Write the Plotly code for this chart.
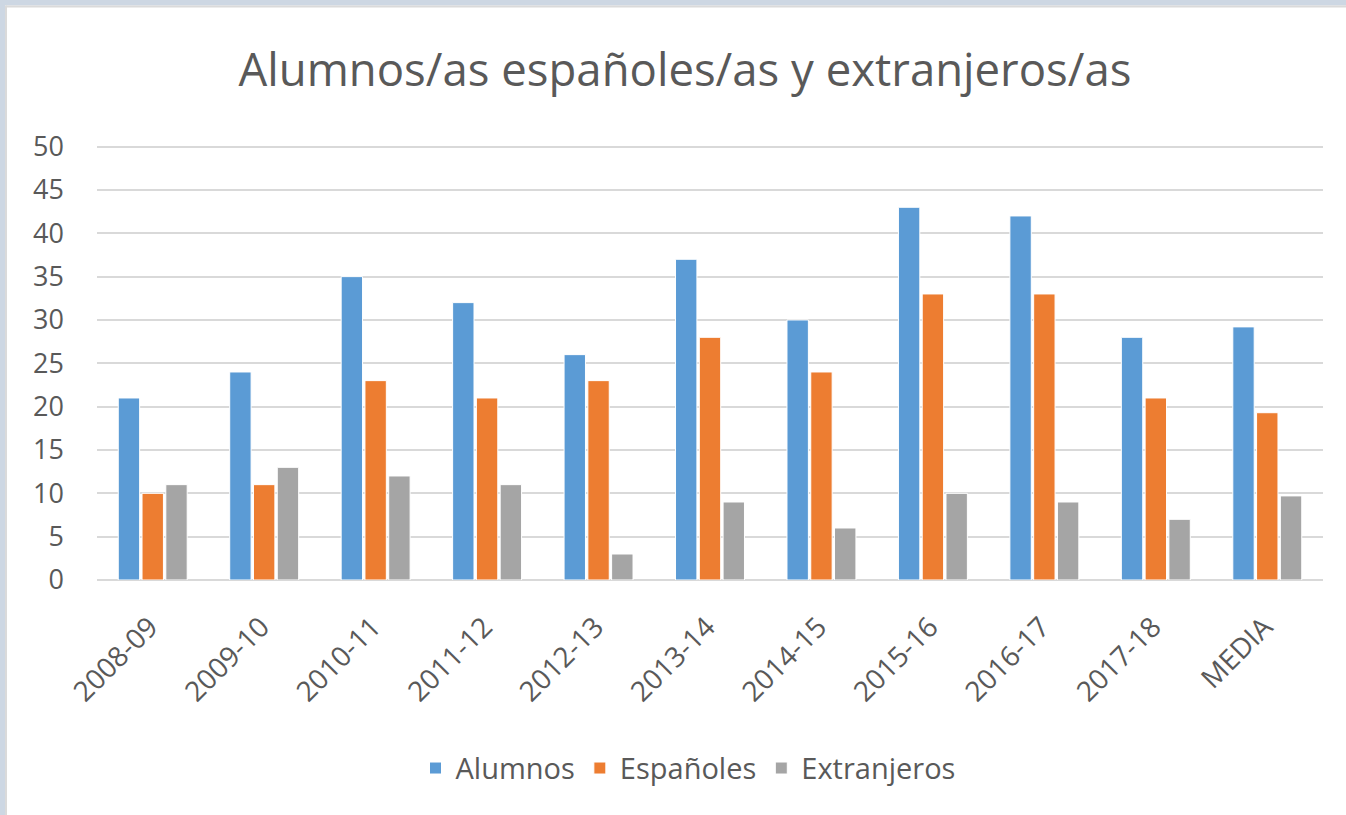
import plotly.graph_objects as go

categories = ["2008-09", "2009-10", "2010-11", "2011-12", "2012-13", "2013-14",
              "2014-15", "2015-16", "2016-17", "2017-18", "MEDIA"]
alumnos = [21, 24, 35, 32, 26, 37, 30, 43, 42, 28, 29.2]
espanoles = [10, 11, 23, 21, 23, 28, 24, 33, 33, 21, 19.3]
extranjeros = [11, 13, 12, 11, 3, 9, 6, 10, 9, 7, 9.7]
series_names = ["Alumnos", "Españoles", "Extranjeros"]
colors = ["#5b9bd5", "#ed7d31", "#a5a5a5"]

W, H = 1346, 815
YMAX = 50.3
L, R, B = 97, 23, 235
T = 580 - YMAX * (433 / 50)
pw, ph = W - L - R, H - T - B

def px(x):
    return (x - L) / pw

def py(y):
    return (H - B - y) / ph

fig = go.Figure()
for name, vals, c in zip(series_names, [alumnos, espanoles, extranjeros], colors):
    fig.add_trace(go.Bar(x=categories, y=vals, name=name,
                         marker=dict(color=c, line=dict(color="white", width=1))))

font_family = "Open Sans, Noto Sans, DejaVu Sans, sans-serif"
fig.update_layout(
    width=W, height=H,
    margin=dict(l=L, r=R, t=T, b=B, autoexpand=False),
    paper_bgcolor="white", plot_bgcolor="white",
    title=dict(text="Alumnos/as españoles/as y extranjeros/as",
               x=(685) / W, xanchor="center", y=1 - 70 / H, yanchor="middle",
               font=dict(size=45.5, color="#595959", family=font_family)),
    barmode="group", bargap=0.36, bargroupgap=0.1,
    font=dict(family=font_family, color="#595959"),
    legend=dict(orientation="h", x=px(688), xanchor="center", y=py(768), yanchor="middle",
                font=dict(size=29, color="#595959"), traceorder="normal"),
    xaxis=dict(type="category", tickangle=-45, tickfont=dict(size=28, color="#595959"),
               showgrid=False, showline=False, ticks="", ticklabelstandoff=24,
               ticklabelshift=-3),
    yaxis=dict(range=[0, YMAX], tickvals=list(range(0, 55, 5)),
               tickfont=dict(size=27, color="#595959"),
               gridcolor="#d9d9d9", gridwidth=2, zeroline=True, zerolinecolor="#d9d9d9",
               zerolinewidth=2, showline=False, ticks="", ticklabelstandoff=32),
    shapes=[
        dict(type="rect", xref="paper", yref="paper", layer="above",
             x0=px(0), x1=px(W), y0=py(6), y1=py(0), fillcolor="#cdd7e3", line=dict(width=0)),
        dict(type="rect", xref="paper", yref="paper", layer="above",
             x0=px(6), x1=px(W), y0=py(8), y1=py(6), fillcolor="#dadada", line=dict(width=0)),
        dict(type="rect", xref="paper", yref="paper", layer="above",
             x0=px(0), x1=px(5), y0=py(H), y1=py(0), fillcolor="#cdd7e3", line=dict(width=0)),
        dict(type="rect", xref="paper", yref="paper", layer="above",
             x0=px(5), x1=px(7), y0=py(H), y1=py(6), fillcolor="#dadada", line=dict(width=0)),
    ],
)
fig.write_html("out.html", config={"displayModeBar": False},
               post_script="document.body.style.margin='0';document.body.style.overflow='hidden';")
